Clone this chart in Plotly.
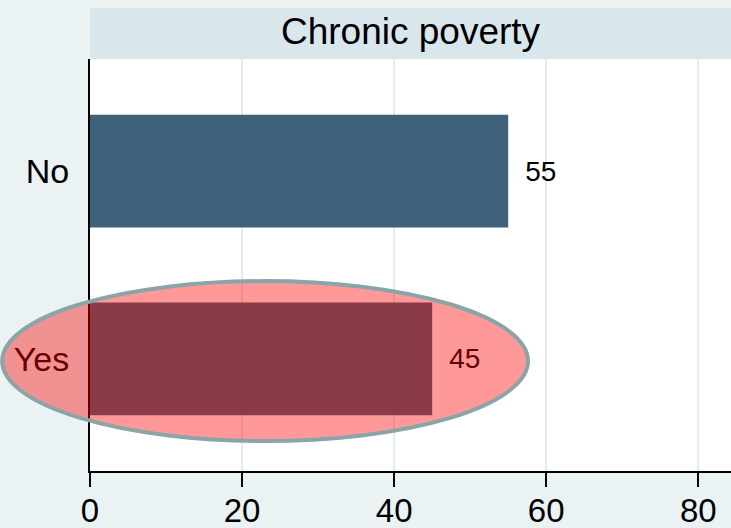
import plotly.graph_objects as go

# Share of households by chronic-poverty status
categories = ["No", "Yes"]
shares = [55, 45]
bar_colors = ["#3E6279", "#3E6279"]
x_ticks = [0, 20, 40, 60, 80]
panel_title = "Chronic poverty"

FONT = "Liberation Sans, Arial, sans-serif"

fig = go.Figure()
fig.add_trace(go.Bar(
    y=categories,
    x=shares,
    orientation="h",
    width=0.6,
    marker=dict(color=bar_colors, line=dict(width=0)),
    text=shares,
    texttemplate="\u2002%{x}",
    textposition="outside",
    cliponaxis=False,
    textfont=dict(family=FONT, size=28, color="black"),
    constraintext="none",
    showlegend=False,
    hoverinfo="skip",
))

# Panel header strip above the plot area
fig.add_shape(type="rect", xref="paper", yref="paper",
              x0=0, x1=1, y0=1.0, y1=1.1238,
              fillcolor="#D9E6EB", line=dict(width=0), layer="below")
fig.add_annotation(text=panel_title, xref="paper", yref="paper",
                   x=0.5, y=1.066, xanchor="center", yanchor="middle",
                   showarrow=False,
                   font=dict(family=FONT, size=37, color="black"))

# Highlight ring around the "Yes" category
fig.add_shape(type="circle", xref="paper", yref="paper",
              x0=-0.137, x1=0.6833, y0=0.0728, y1=0.461,
              fillcolor="rgba(255,0,0,0.4)",
              line=dict(color="#8AA5A8", width=4), layer="above")

fig.update_layout(
    width=731, height=528,
    margin=dict(l=90, r=0, t=59, b=57),
    paper_bgcolor="#EAF2F3",
    plot_bgcolor="white",
    font=dict(family=FONT, color="black"),
    bargap=0.4,
)
fig.update_xaxes(
    range=[0, 84.3],
    tickvals=x_ticks,
    ticks="outside", ticklen=14, tickwidth=2, tickcolor="black",
    ticklabelstandoff=-5,
    tickfont=dict(family=FONT, size=33, color="black"),
    showline=True, linecolor="black", linewidth=2,
    showgrid=True, gridcolor="#E3ECEE", gridwidth=2,
    zeroline=False, automargin=False,
)
fig.update_yaxes(
    categoryorder="array", categoryarray=categories,
    range=[1.596, -0.596],
    ticks="", ticklabelstandoff=12,
    tickfont=dict(family=FONT, size=34, color="black"),
    showline=True, linecolor="black", linewidth=2,
    showgrid=False, zeroline=False, automargin=False,
)

fig.write_html("out.html")
